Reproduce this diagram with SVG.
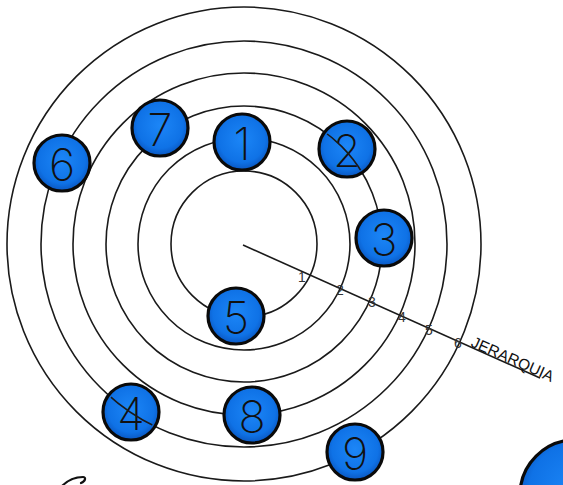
<svg xmlns="http://www.w3.org/2000/svg" width="563" height="485" viewBox="0 0 563 485">
<defs>
<radialGradient id="blue" cx="50%" cy="45%" r="55%">
<stop offset="0" stop-color="#1c86f7"/>
<stop offset="0.75" stop-color="#0f72e6"/>
<stop offset="1" stop-color="#0a56c0"/>
</radialGradient>
<clipPath id="clip2"><circle cx="347" cy="149" r="25"/></clipPath>
<clipPath id="clip4"><circle cx="131" cy="412" r="25"/></clipPath>
</defs>
<style>
.ring{fill:none;stroke:#1a1a1a;stroke-width:1.6}
.node{fill:url(#blue);stroke:#0a0a0a;stroke-width:3.2}
.num{font-family:Inter,"Liberation Sans",sans-serif;font-weight:200;font-size:45px;fill:#111;text-anchor:middle;dominant-baseline:central}
.tick{font-family:"Liberation Sans",sans-serif;font-size:14px;fill:#333;text-anchor:middle;dominant-baseline:central}
.lbl{font-family:"Liberation Sans",sans-serif;font-size:15.5px;fill:#111}
</style>
<rect width="563" height="485" fill="#fff"/>
<g id="connectors">
<circle class="ring" cx="244" cy="244" r="73"/>
<circle class="ring" cx="244" cy="244" r="106"/>
<circle class="ring" cx="244" cy="244" r="138"/>
<circle class="ring" cx="244" cy="244" r="171"/>
<circle class="ring" cx="244" cy="244" r="203"/>
<circle class="ring" cx="244" cy="244" r="237"/>
<line x1="243" y1="245" x2="540" y2="378" stroke="#1a1a1a" stroke-width="1.6"/>
</g>
<g id="scale">
<text class="tick" x="302" y="277">1</text>
<text class="tick" x="340" y="290">2</text>
<text class="tick" x="372" y="302">3</text>
<text class="tick" x="402" y="317">4</text>
<text class="tick" x="429" y="330">5</text>
<text class="tick" x="458" y="343">6</text>
<text class="lbl" x="470" y="346" transform="rotate(24 470 346)">JERARQUIA</text>
</g>
<g id="n1"><circle class="node" cx="242" cy="142" r="28"/><text class="num" x="242" y="143">1</text></g>
<g id="n2"><circle class="node" cx="347" cy="149" r="28"/><text class="num" x="347" y="150">2</text></g>
<g id="n3"><circle class="node" cx="384" cy="238" r="28"/><text class="num" x="384" y="239">3</text></g>
<g id="n4"><circle class="node" cx="131" cy="412" r="28"/><text class="num" x="131" y="413">4</text></g>
<g id="n5"><circle class="node" cx="236" cy="316" r="28"/><text class="num" x="236" y="317">5</text></g>
<g id="n6"><circle class="node" cx="62" cy="163" r="28"/><text class="num" x="62" y="164">6</text></g>
<g id="n7"><circle class="node" cx="160" cy="128" r="28"/><text class="num" x="160" y="129">7</text></g>
<g id="n8"><circle class="node" cx="252" cy="415" r="28"/><text class="num" x="252" y="416">8</text></g>
<g id="n9"><circle class="node" cx="355" cy="452" r="28"/><text class="num" x="355" y="453">9</text></g>
<g id="overlaps">
<circle class="ring" cx="244" cy="244" r="138" clip-path="url(#clip2)"/>
<circle class="ring" cx="244" cy="244" r="203" clip-path="url(#clip4)"/>
</g>
<g id="n10"><circle class="node" cx="575" cy="495" r="55"/></g>
<g id="scribble"><path d="M62 486 C68 480 76 477 83 477 C86 477 86 481 81 483" fill="none" stroke="#111" stroke-width="2.2" stroke-linecap="round"/></g>
</svg>
